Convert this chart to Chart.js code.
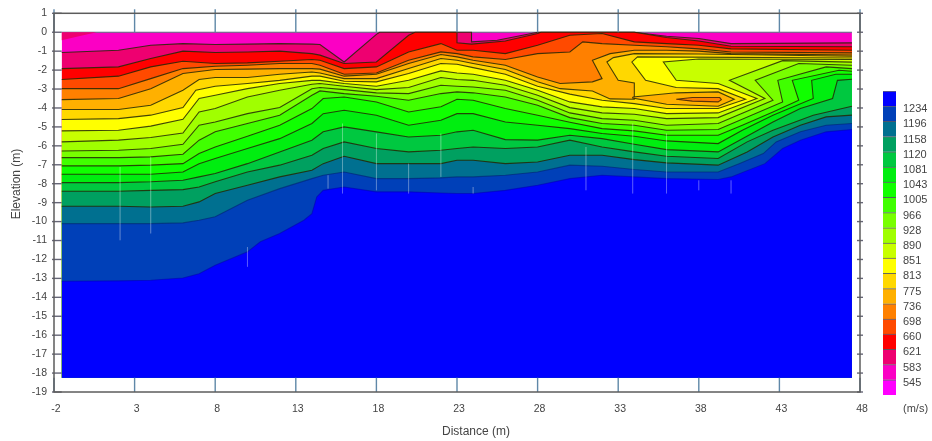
<!DOCTYPE html>
<html>
<head>
<meta charset="utf-8">
<title>Elevation vs Distance</title>
<script src="https://cdn.jsdelivr.net/npm/chart.js@4/dist/chart.umd.min.js"></script>
<style>
  html, body { margin: 0; padding: 0; background: #fff; }
  #wrap { position: relative; width: 932px; height: 441px; overflow: hidden; }
  canvas { position: absolute; top: 0; filter: blur(0.6px); }
  #main { left: 0; }
  #scaleBar { left: 883px; }
</style>
</head>
<body>
<div id="wrap">
  <canvas id="main" width="932" height="441"></canvas>
  <canvas id="scaleBar" width="49" height="441"></canvas>
</div>
<script>
// --- contour lines, [distance m, elevation m] ---
const line583 = [[-1.52,-1.07],[2,-.95],[4,-.69],[6,-.6],[8,-.65],[10,-.63],[12,-.6],[14,-.63],[14.5,-.65],[16,-1.57],[18,-.11],[18.2,0],[23.9,0],[23.9,-.51],[25.5,-.42],[28,0],[34,0],[36,-.21],[38,-.33],[40,-.6],[47.5,-.56]];
const line621 = [[-1.52,-1.92],[2,-1.83],[4,-1.39],[6,-1],[8,-1.07],[10,-1.04],[12,-1],[14,-1.13],[14.5,-1.21],[16,-1.65],[18,-1.57],[20,-.16],[20.4,0],[23,0],[23,-.56],[23.9,-.63],[26,-.46],[28,-.07],[28.2,0],[34,0],[36,-.28],[38,-.46],[40,-.74],[47.5,-.77]];
const line660 = [[-1.52,-2.5],[2,-2.32],[4,-1.83],[6,-1.53],[8,-1.65],[10,-1.62],[12,-1.53],[14,-1.44],[14.5,-1.48],[16,-1.92],[18,-1.83],[20,-1.04],[22,-.6],[23,-.95],[24,-.95],[26,-1.13],[28,-.69],[30,-.16],[32,-.07],[34,-.51],[36,-.6],[38,-.69],[40,-.88],[47.5,-.95]];
const line698 = [[-1.52,-2.98],[2,-2.98],[4,-2.45],[6,-1.92],[8,-1.8],[10,-1.74],[12,-1.65],[14,-1.65],[14.5,-1.74],[16,-2.22],[18,-2.15],[20,-1.48],[22,-1.04],[23,-1.13],[24,-1.3],[26,-1.44],[28,-1.13],[30,-1.04],[30.8,-.51],[32,-.6],[34,-.69],[36,-.77],[38,-.88],[40,-1.04],[47.5,-1.09]];
const line736 = [[-1.52,-3.56],[2,-3.5],[4,-2.98],[6,-2.18],[8,-1.97],[10,-1.95],[12,-1.92],[14,-1.92],[14.5,-1.95],[16,-2.32],[18,-2.22],[20,-1.65],[22,-1.18],[23,-1.3],[24,-1.48],[26,-1.74],[28,-2.36],[29.4,-2.71],[31.4,-2.62],[32,-2.45],[31.4,-1.48],[32.5,-1.13],[34,-.95],[36,-.95],[38,-1],[40,-1.13],[47.5,-1.2]];
const line775 = [[-1.52,-4.08],[2,-4.08],[4,-3.86],[6,-3.06],[7,-2.5],[8,-2.39],[10,-2.39],[12,-2.22],[14,-2.1],[14.5,-2.15],[16,-2.45],[18,-2.45],[20,-1.92],[22,-1.39],[23,-1.48],[24,-1.65],[26,-1.97],[28,-2.62],[29.4,-2.98],[31.4,-3.1],[32.5,-3.52],[34,-3.54],[34,-2.68],[33,-2.54],[32.3,-1.57],[32.7,-1.34],[34,-1.13],[38,-1.15],[47.5,-1.27]];
const line813 = [[-1.52,-4.61],[2,-4.56],[4,-4.38],[6,-3.98],[6.8,-3.06],[8,-2.85],[10,-2.71],[12,-2.54],[14,-2.32],[14.5,-2.32],[16,-2.59],[18,-2.62],[20,-2.18],[22,-1.65],[23,-1.69],[24,-1.87],[26,-2.22],[28,-2.85],[30,-3.27],[32,-3.59],[34,-3.77],[36,-4.03],[39.2,-4.03],[40.9,-3.54],[39.2,-2.98],[36.6,-2.92],[34.7,-2.54],[33.85,-1.57],[34.2,-1.3],[47.5,-1.36]];
const line851 = [[-1.52,-5.21],[2,-5.18],[4,-4.96],[6,-4.6],[7,-3.5],[8,-3.33],[10,-2.98],[12,-2.71],[14,-2.54],[14.5,-2.54],[16,-2.71],[18,-2.85],[20,-2.54],[22,-2.04],[23,-2.15],[24,-2.22],[26,-2.54],[28,-3.06],[30,-3.68],[32,-3.94],[34,-4.03],[36,-4.3],[39.2,-4.26],[41.6,-3.5],[39.2,-2.71],[36.6,-2.54],[35.8,-1.57],[38,-1.41],[47.5,-1.44]];
const line890 = [[-1.52,-5.79],[2,-5.7],[4,-5.56],[6,-5.32],[7,-4.21],[8,-4.03],[10,-3.42],[12,-3.06],[14,-2.75],[14.5,-2.71],[16,-2.85],[18,-3.03],[20,-2.92],[22,-2.39],[23,-2.5],[24,-2.54],[26,-2.8],[28,-3.33],[30,-3.98],[32,-4.26],[34,-4.33],[36,-4.56],[39.2,-4.51],[42.1,-3.5],[39.9,-2.54],[43.2,-1.5],[47.5,-1.58]];
const line928 = [[-1.52,-6.27],[2,-6.23],[4,-6.14],[6,-5.92],[7,-4.91],[8,-4.74],[10,-4.3],[12,-3.98],[14,-2.98],[14.5,-2.92],[16,-3.03],[18,-3.2],[20,-3.24],[22,-2.8],[23,-2.85],[24,-2.89],[26,-3.06],[28,-3.59],[30,-4.26],[32,-4.56],[34,-4.65],[36,-4.91],[39.2,-4.82],[42.6,-3.59],[41.5,-2.54],[44.2,-1.65],[47.5,-1.74]];
const line966 = [[-1.52,-6.62],[2,-6.62],[4,-6.58],[6,-6.44],[7,-5.7],[8,-5.26],[10,-4.82],[12,-4.38],[14,-3.33],[14.5,-3.1],[16,-3.24],[18,-3.38],[20,-3.59],[22,-3.24],[23,-3.15],[24,-3.2],[26,-3.42],[28,-3.86],[30,-4.51],[32,-4.82],[34,-4.91],[36,-5.18],[39.2,-5.14],[43.2,-3.68],[42.9,-2.54],[45.9,-1.83],[47.5,-1.92]];
const line1005 = [[-1.52,-7.06],[2,-7.06],[4,-7.02],[6,-6.94],[7,-6.41],[8,-6.06],[10,-5.49],[12,-4.91],[14,-4.03],[14.7,-3.5],[16,-3.42],[18,-3.68],[20,-4.21],[22,-3.94],[23,-3.54],[24,-3.59],[26,-4.03],[28,-4.38],[30,-4.75],[32,-5.09],[34,-5.21],[36,-5.44],[39.2,-5.44],[40.7,-4.91],[42.6,-4.21],[44.2,-3.59],[43.8,-2.54],[46.7,-2.01],[47.5,-2.06]];
const line1043 = [[-1.52,-7.5],[2,-7.5],[4,-7.5],[6,-7.38],[7,-6.94],[8,-6.67],[10,-6.14],[12,-5.62],[14,-4.82],[14.7,-4.3],[16,-4.12],[18,-4.38],[20,-4.91],[22,-4.65],[23,-4.3],[24,-4.3],[26,-4.74],[28,-4.91],[30,-5.09],[32,-5.35],[34,-5.49],[36,-5.74],[39.2,-5.88],[40.7,-5.18],[42.6,-4.38],[45.1,-3.5],[45,-2.54],[46.5,-2.22],[47.5,-2.22]];
const line1081 = [[-1.52,-7.94],[2,-7.94],[4,-7.9],[6,-7.82],[7,-7.64],[8,-7.46],[10,-6.94],[12,-6.32],[14,-5.7],[14.7,-5.26],[16,-5],[18,-5.26],[20,-5.53],[22,-5.44],[23,-5.26],[24,-5.18],[26,-5.67],[28,-5.7],[30,-5.44],[32,-5.62],[34,-5.92],[36,-6.2],[39.2,-6.32],[40.9,-5.53],[42.6,-4.74],[44.3,-4.03],[46.3,-3.5],[46.6,-2.54],[47.5,-2.48]];
const line1120 = [[-1.52,-8.4],[2,-8.4],[4,-8.35],[6,-8.31],[7,-8.17],[8,-7.9],[10,-7.38],[12,-7.02],[14,-6.5],[14.7,-6.14],[16,-5.79],[18,-6.14],[20,-6.32],[22,-6.23],[23,-6.14],[24,-6.06],[26,-6.14],[28,-6.06],[30,-5.7],[32,-6.06],[34,-6.32],[36,-6.55],[39.2,-6.67],[41,-5.79],[42.6,-5.18],[45.1,-4.38],[47.5,-3.91]];
const line1158 = [[-1.52,-9.19],[2,-9.19],[4,-9.23],[6,-9.19],[7,-8.96],[8,-8.52],[10,-8.08],[12,-7.64],[14,-7.29],[14.7,-6.94],[16,-6.55],[18,-6.94],[20,-6.94],[22,-6.94],[23,-6.76],[24,-6.76],[26,-6.94],[28,-6.85],[30,-6.5],[32,-6.5],[34,-6.73],[36,-6.9],[39.2,-7.02],[41,-6.32],[42.6,-5.53],[44.3,-4.91],[45.9,-4.47],[47.5,-4.38]];
const line1196 = [[-1.52,-10.11],[2,-10.11],[4,-10.11],[6,-10.07],[7,-9.93],[8,-9.75],[10,-8.87],[12,-8.26],[14,-7.73],[14.7,-7.55],[16,-7.38],[18,-7.73],[20,-7.73],[22,-7.69],[23,-7.64],[24,-7.64],[26,-7.55],[28,-7.38],[30,-7.02],[32,-7.08],[34,-7.25],[36,-7.38],[39.2,-7.38],[40.5,-6.94],[42,-6.41],[42.8,-5.79],[44.3,-5.26],[45.9,-4.91],[47.5,-4.82]];
const line1234 = [[-1.52,-13.15],[2,-13.13],[4,-13.1],[6,-12.98],[7,-12.75],[8,-12.31],[10,-11.6],[10.8,-11.07],[12,-10.63],[13.5,-9.93],[14,-9.58],[14.3,-8.7],[14.7,-8.35],[16,-8.17],[18,-8.43],[20,-8.43],[22,-8.49],[23,-8.52],[24,-8.52],[26,-8.35],[28,-8.08],[30,-7.73],[32,-7.55],[34,-7.64],[36,-7.73],[39.2,-7.78],[40,-7.64],[42.1,-6.94],[43.2,-6.14],[44.3,-5.7],[45.9,-5.26],[47.5,-5.14]];

// closed pockets of slower ground
const patchCorner = [[-1.52,0],[.65,0],[-.39,-.2],[-1.52,-.42],[-1.52,0]];
const pocket775 = [[33.9,-3.42],[36.6,-3.2],[39.2,-3.15],[40.2,-3.54],[39.2,-3.91],[36,-3.8],[33.9,-3.47],[33.9,-3.42]];
const pocket736 = [[36.6,-3.54],[37.6,-3.45],[39.3,-3.45],[39.4,-3.56],[39.2,-3.68],[37.6,-3.64],[36.6,-3.54]];

// garis pucat vertikal di gambar asli: [distance, elevation atas, elevation bawah]
const streaks = [[2.1,-7.11,-10.99],[4,-6.58,-10.63],[10,-11.34,-12.39],[15,-7.55,-8.26],[15.9,-4.82,-8.52],[18,-5.35,-8.35],[20,-6.94,-8.52],[22,-5.35,-7.64],[24,-8.17,-8.52],[31,-6.06,-8.35],[33.9,-4.82,-8.52],[36,-5.35,-8.52],[38,-7.82,-8.35],[40,-7.82,-8.52]];

const surface = [[-1.52,0],[47.5,0]];
const bottomDepth = -18.25;

const contours = [line583, line621, line660, line698, line736, line775, line813, line851, line890, line928, line966, line1005, line1043, line1081, line1120, line1158, line1196, line1234];

// warna pita, lambat ke cepat (sama dengan skala di kanan)
const bandColors = ['#ff00ff', '#fb00c4', '#ee0070', '#ff0000', '#ff4a00', '#ff8000', '#ffb000', '#ffd800', '#ffff00', '#c8ff00', '#a0ff00', '#78ff00', '#40ff00', '#10ff00', '#00ee10', '#00c840', '#00a060', '#007090', '#0040b8', '#0000ff'];
const scaleLabels = ['545', '583', '621', '660', '698', '736', '775', '813', '851', '890', '928', '966', '1005', '1043', '1081', '1120', '1158', '1196', '1234'];

const distanceTicks = { min: -2, max: 48, step: 5 };
const elevationTicks = { min: -19, max: 1, step: 1 };

const toPoints = pairs => pairs.map(p => ({ x: p[0], y: p[1] }));
const inkColor = '#444';

// --- 1. LAPISAN KONTUR ---
const layers = [];
layers.push({ data: toPoints(surface), borderColor: '#5a6a80', borderWidth: 1, backgroundColor: bandColors[1], fill: { value: bottomDepth } });
contours.forEach((line, i) => {
    let stroke = 'rgba(35,40,5,0.85)';
    if (i === 16) stroke = 'rgba(0,30,110,0.55)';
    if (i === 17) stroke = 'rgba(0,0,170,0.5)';
    layers.push({ data: toPoints(line), borderColor: stroke, borderWidth: 1.1, backgroundColor: bandColors[i + 2], fill: { value: bottomDepth } });
});
layers.push({ data: toPoints(patchCorner), borderColor: 'rgba(0,0,0,0)', borderWidth: 0, backgroundColor: bandColors[2], fill: 'shape' });
layers.push({ data: toPoints(pocket775), borderColor: 'rgba(35,40,5,0.85)', borderWidth: 1.1, backgroundColor: bandColors[6], fill: 'shape' });
layers.push({ data: toPoints(pocket736), borderColor: 'rgba(70,40,10,0.9)', borderWidth: 1.1, backgroundColor: bandColors[5], fill: 'shape' });
streaks.forEach(s => {
    layers.push({ data: [{ x: s[0], y: s[1] }, { x: s[0], y: s[2] }], borderColor: 'rgba(255,255,255,0.14)', borderWidth: 1, fill: false });
});
// dataset pertama digambar paling atas, jadi order dibalik
layers.forEach((d, i) => {
    d.order = layers.length - i;
    d.showLine = true;
    d.pointRadius = 0;
    d.tension = 0;
});

// --- 2. BINGKAI & TICK ---
const frameTicks = {
    id: 'frameTicks',
    afterDatasetsDraw(chart) {
        const { ctx, chartArea: a, scales } = chart;
        ctx.save();
        ctx.lineWidth = 1.4;
        ctx.strokeStyle = '#5f88a8';
        scales.x.ticks.forEach(t => {
            const px = scales.x.getPixelForValue(t.value);
            ctx.beginPath(); ctx.moveTo(px, a.top - 4); ctx.lineTo(px, a.top + 19); ctx.stroke();
            ctx.beginPath(); ctx.moveTo(px, scales.y.getPixelForValue(bottomDepth)); ctx.lineTo(px, a.bottom); ctx.stroke();
        });
        ctx.strokeStyle = '#667';
        scales.y.ticks.forEach(t => {
            const py = scales.y.getPixelForValue(t.value);
            ctx.beginPath(); ctx.moveTo(a.left - 2, py); ctx.lineTo(scales.x.getPixelForValue(-1.52), py); ctx.stroke();
            ctx.beginPath(); ctx.moveTo(a.right - 3, py); ctx.lineTo(a.right + 3, py); ctx.stroke();
        });
        ctx.lineWidth = 1.5;
        ctx.strokeStyle = '#5c5c5c';
        ctx.strokeRect(a.left, a.top, a.right - a.left, a.bottom - a.top);
        // judul sumbu
        ctx.fillStyle = inkColor;
        ctx.textAlign = 'center';
        ctx.textBaseline = 'middle';
        ctx.font = '12px "Liberation Sans"';
        ctx.fillText('Distance (m)', 476, 432);
        ctx.translate(17, 184);
        ctx.rotate(-Math.PI / 2);
        ctx.fillText('Elevation (m)', 0, 0);
        ctx.restore();
    }
};

new Chart(document.getElementById('main'), {
    type: 'scatter',
    data: { datasets: layers },
    options: {
        responsive: false,
        animation: false,
        layout: { padding: { top: 13, right: 72, left: 0, bottom: 0 } },
        plugins: { legend: { display: false }, tooltip: { enabled: false } },
        scales: {
            x: {
                type: 'linear',
                min: distanceTicks.min,
                max: distanceTicks.max,
                grid: { display: false, drawTicks: false },
                border: { display: false },
                ticks: { stepSize: distanceTicks.step, padding: 11, labelOffset: 2, maxRotation: 0, autoSkip: false, color: inkColor, font: { family: 'Liberation Sans', size: 10.5 } },
                afterFit: s => { s.height = 49; }
            },
            y: {
                type: 'linear',
                min: elevationTicks.min,
                max: elevationTicks.max,
                grid: { display: false, drawTicks: false },
                border: { display: false },
                ticks: { stepSize: elevationTicks.step, padding: 7, autoSkip: false, color: inkColor, font: { family: 'Liberation Sans', size: 10.5 } },
                afterFit: s => { s.width = 54; }
            }
        }
    },
    plugins: [frameTicks]
});

// --- 3. SKALA WARNA ---
new Chart(document.getElementById('scaleBar'), {
    type: 'bar',
    data: {
        labels: [''],
        datasets: bandColors.map(c => ({
            data: [1],
            backgroundColor: c,
            borderColor: 'rgba(40,40,60,0.7)',
            borderWidth: { top: 1 },
            borderSkipped: false,
            barPercentage: 1,
            categoryPercentage: 1
        }))
    },
    options: {
        responsive: false,
        animation: false,
        layout: { padding: { top: 91, bottom: 34.6, left: 0, right: 0 } },
        plugins: { legend: { display: false }, tooltip: { enabled: false } },
        scales: {
            x: { stacked: true, display: false },
            y: {
                stacked: true,
                position: 'right',
                min: -0.75,
                max: 20,
                grid: { display: false, drawTicks: false },
                border: { display: false },
                afterBuildTicks: s => {
                    s.ticks = [{ value: -0.75 }].concat(scaleLabels.map((_, i) => ({ value: i + 1 })));
                },
                ticks: {
                    padding: 7,
                    labelOffset: 3,
                    autoSkip: false,
                    color: inkColor,
                    font: { family: 'Liberation Sans', size: 11 },
                    callback: v => (v < 0 ? '(m/s)' : scaleLabels[v - 1])
                },
                afterFit: s => { s.width = 36; }
            }
        }
    }
});
</script>
</body>
</html>
